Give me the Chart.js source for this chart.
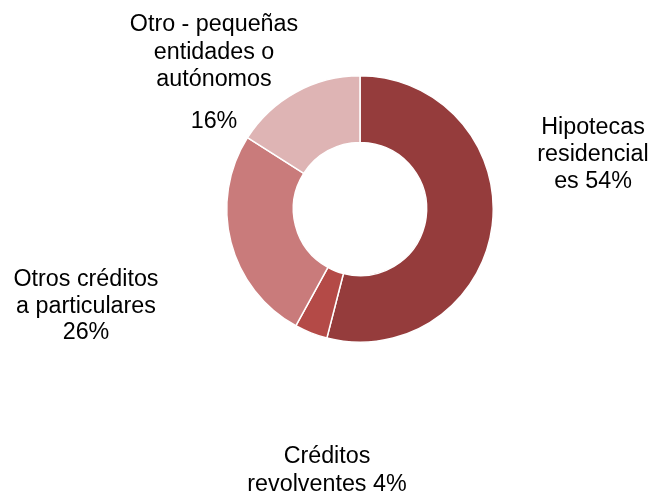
<!DOCTYPE html>
<html>
<head>
<meta charset="utf-8">
<script src="https://cdn.jsdelivr.net/npm/chart.js@4"></script>
<style>
  html, body { margin: 0; padding: 0; background: #fff; }
  #wrap { width: 652px; height: 493px; position: relative; }
</style>
</head>
<body>
<div id="wrap"><canvas id="donut"></canvas></div>
<script>
/* ============================
   DATA
============================ */
const categories = [
    'Hipotecas residenciales',
    'Créditos revolventes',
    'Otros créditos a particulares',
    'Otro - pequeñas entidades o autónomos'
];
const shares = [54, 4, 26, 16];
const sliceColors = ['#953C3C', '#B44A47', '#C97B7B', '#DEB4B4'];

// label text as it wraps in the picture
const labelLines = [
    ['Hipotecas', 'residencial', 'es 54%'],
    ['Créditos', 'revolventes 4%'],
    ['Otros créditos', 'a particulares', '26%'],
    ['Otro - pequeñas', 'entidades o', 'autónomos', '16%']
];

/* ============================
   LABEL PLACEMENT (offset from donut centre, per-line y)
============================ */
const labelSpots = [
    { dx: 233, ys: [-81, -54, -27] },
    { dx: -33, ys: [248, 276] },
    { dx: -274, ys: [71, 98, 124] },
    { dx: -146, ys: [-184, -156, -129, -87] }
];

const outsideLabels = {
    id: 'outsideLabels',
    afterDraw(chart) {
        const ctx = chart.ctx;
        const arc = chart.getDatasetMeta(0).data[0];
        const cx = arc.x, cy = arc.y;
        ctx.save();
        ctx.font = '23.3px "Liberation Sans", Arial, sans-serif';
        ctx.fillStyle = '#000';
        ctx.textAlign = 'center';
        ctx.textBaseline = 'middle';
        labelLines.forEach((lines, i) => {
            const s = labelSpots[i];
            lines.forEach((line, j) => {
                ctx.fillText(line, cx + s.dx, cy + s.ys[j]);
            });
        });
        ctx.restore();
    }
};

/* ============================
   CHART
============================ */
new Chart(document.getElementById('donut'), {
    type: 'doughnut',
    data: {
        labels: categories,
        datasets: [{
            data: shares,
            backgroundColor: sliceColors,
            borderColor: '#ffffff',
            borderWidth: 1.5
        }]
    },
    options: {
        responsive: true,
        maintainAspectRatio: false,
        animation: false,
        cutout: '50%',
        layout: { padding: { left: 226, right: 158, top: 75, bottom: 150 } },
        plugins: {
            legend: { display: false },
            tooltip: { enabled: false }
        }
    },
    plugins: [outsideLabels]
});
</script>
</body>
</html>
